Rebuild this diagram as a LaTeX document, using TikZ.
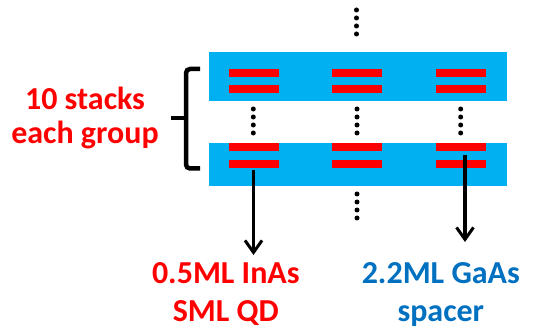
\documentclass[tikz,border=0pt]{standalone}
\usepackage{fontspec}
\setmainfont{Carlito}
\usetikzlibrary{arrows.meta}
\definecolor{bandblue}{HTML}{00B0F0}
\definecolor{qdred}{HTML}{FF0000}
\definecolor{txtblue}{HTML}{0070C0}
\tikzset{
	band/.style={fill=bandblue,inner sep=0,minimum width=298pt},
	qdbar/.style={fill=qdred,inner sep=0,minimum width=50pt,minimum height=8pt},
	lbl/.style={font=\bfseries\fontsize{32}{38}\selectfont,align=center,inner sep=0},
	arr/.style={line width=3.5pt,-{Straight Barb[length=12pt,width=17pt,line width=3pt]}}
}
\begin{document}
\begin{tikzpicture}[x=1pt,y=-1pt]
				\useasboundingbox (0,0) rectangle (546,331);
				% the two layer groups
				\node[band,minimum height=49pt] (bandtop) at (357.5,77) {};
				\node[band,minimum height=43pt] (bandbot) at (357.5,164.6) {};
				\foreach \i/\x in {1/253.5,2/357,3/461}{
					\node[qdbar] (ta\i) at (\x,73) {};
					\node[qdbar] (tb\i) at (\x,89.5) {};
					\node[qdbar] (ba\i) at (\x,147.2) {};
					\node[qdbar] (bb\i) at (\x,163.8) {};
				}
				% dots
				\foreach \y in {10,18,26,34}
					\fill (356.5,\y) circle (2.5pt);
				\foreach \y in {194,202,210,218}
					\fill (357,\y) circle (2.5pt);
				\foreach \x in {253.3,357,460.7}
					\foreach \y in {109,117,125,133}
						\fill (\x,\y) circle (2.5pt);
				% brace
				\draw[line width=4.5pt,rounded corners=4pt] (200,69) -- (186,69) -- (186,168.5) -- (200,168.5);
				\draw[line width=4pt] (171,118.3) -- (186,118.3);
				\node[lbl,text=qdred,align=center,font=\bfseries\fontsize{32}{34}\selectfont] (stacks) at (85,118.3) {10 stacks\\each group};
				% labels and arrows
				\node[lbl,text=qdred,anchor=north] (qdlbl) at (225.8,262) {0.5ML InAs\\SML QD};
				\node[lbl,text=txtblue,anchor=north] (gaaslbl) at (440.8,262) {2.2ML GaAs\\spacer};
				\coordinate (qdend) at (253.5,255);
				\coordinate (gaasstart) at (465,155);
				\coordinate (gaasend) at (465,242);
				\draw[arr] ([yshift=-2pt]bb1.south) -- (qdend);
				\draw[arr] (gaasstart) -- (gaasend);
			\end{tikzpicture}
\end{document}
